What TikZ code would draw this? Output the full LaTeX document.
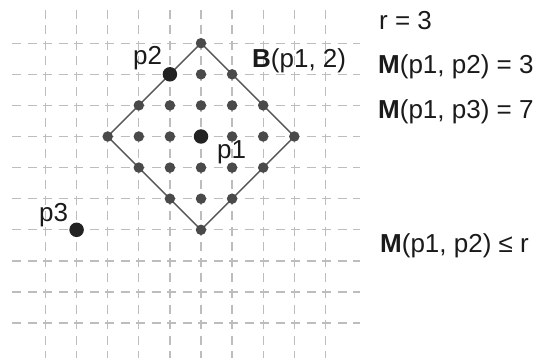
\documentclass[tikz,border=0pt]{standalone}
\usepackage{fontspec}
\setmainfont{Liberation Sans}
\definecolor{gridgray}{HTML}{BDBDBD}
\definecolor{linegray}{HTML}{555555}
\definecolor{dotgray}{HTML}{4A4A4A}
\definecolor{bigdotcol}{HTML}{222222}
\definecolor{textcol}{HTML}{1A1A1A}
\pgfdeclarelayer{bg}
\pgfsetlayers{bg,main}
\begin{document}
\begin{tikzpicture}[x=1pt,y=-1pt,
  gridline/.style={draw=gridgray, line width=1.3pt, dash pattern=on 9pt off 6.5pt},
  ballline/.style={draw=linegray, line width=1.4pt},
  smalldot/.style={circle, fill=dotgray, inner sep=0pt, minimum size=10.5pt},
  bigdot/.style={circle, fill=bigdotcol, inner sep=0pt, minimum size=14.5pt},
  lbl/.style={anchor=base west, inner sep=0pt, font=\fontsize{26}{30}\selectfont, text=textcol}]
\useasboundingbox (0,0) rectangle (541,358);
\def\s{31.1}
\def\cx{201}
\def\cy{136.5}
% grid
\begin{pgfonlayer}{bg}
\foreach \i in {0,...,9} {
  \draw[gridline] ({\cx+\s*(\i-5)},10) -- ({\cx+\s*(\i-5)},358);
  \draw[gridline] (12,{\cy+\s*(\i-3)}) -- (360,{\cy+\s*(\i-3)});
}
\end{pgfonlayer}
% small dots of the ball
\foreach \a in {-3,...,3} {
  \foreach \b in {-3,...,3} {
    \pgfmathtruncatemacro\ia{\a+3}
    \pgfmathtruncatemacro\ib{\b+3}
    \pgfmathtruncatemacro\dist{abs(\a)+abs(\b)}
    \ifnum\dist<4
      \node[smalldot] (d\ia\ib) at ({\cx+\s*\a},{\cy-\s*\b}) {};
    \fi
  }
}
% diamond
\begin{pgfonlayer}{bg}
\draw[ballline] (d36.center) -- (d63.center) -- (d30.center) -- (d03.center) -- cycle;
\end{pgfonlayer}
% big points
\node[bigdot] (p1) at (\cx,\cy) {};
\node[bigdot] (p2) at ({\cx-\s},{\cy-2*\s}) {};
\node[bigdot] (p3) at ({\cx-4*\s},{\cy+3*\s}) {};
% labels
\node[lbl] (lp2) at (133,65) {p2};
\node[lbl] (lp1) at (217,159) {p1};
\node[lbl] (lp3) at (39,222) {p3};
\node[lbl] (lb) at (252,68) {\textbf{B}(p1, 2)};
\node[lbl] (lr) at (379,30) {r = 3};
\node[lbl] (lm1) at (378,74) {\textbf{M}(p1, p2) = 3};
\node[lbl] (lm2) at (378,119) {\textbf{M}(p1, p3) = 7};
\node[lbl] (lm3) at (380,253) {\textbf{M}(p1, p2) ≤ r};
\end{tikzpicture}
\end{document}
